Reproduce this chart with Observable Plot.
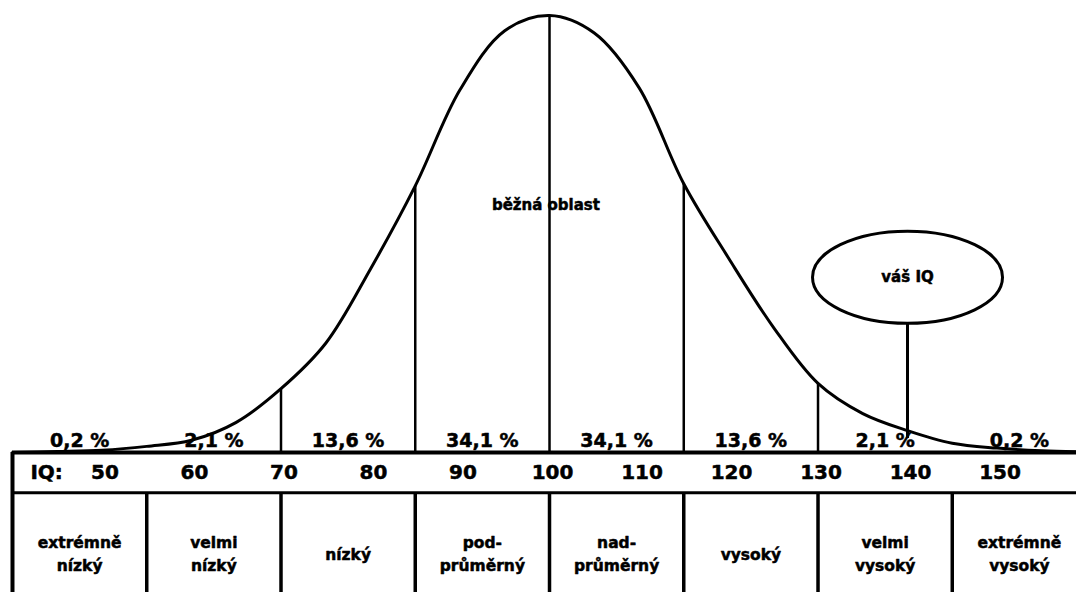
<!DOCTYPE html>
<html>
<head>
<meta charset="utf-8">
<script src="https://cdn.jsdelivr.net/npm/d3@7"></script>
<script src="https://cdn.jsdelivr.net/npm/@observablehq/plot@0.6"></script>
<style>
  html, body { margin: 0; padding: 0; background: #fff; overflow: hidden; }
</style>
</head>
<body>
<div id="chart"></div>
<script>
// ---- data ----
// bell curve: IQ value and curve height (% of the peak)
const curveIQ     = [40, 45, 50, 55, 60, 65, 70, 75, 80, 85, 90, 95, 100, 105, 110, 115, 120, 125, 130, 135, 140, 145, 150, 155, 160];
const curveHeight = [0.0, 0.2, 0.5, 1.4, 2.8, 6.9, 14.6, 25, 42, 61, 83, 96.5, 100, 96, 83.5, 61.5, 44.5, 28.7, 15.8, 8.9, 5.0, 2.1, 1.0, 0.4, 0.1];

// bands of the table (edges in IQ points)
const bandEdges    = [40, 55, 70, 85, 100, 115, 130, 145, 160];
const bandPercents = ["0,2 %", "2,1 %", "13,6 %", "34,1 %", "34,1 %", "13,6 %", "2,1 %", "0,2 %"];
const bandNames    = ["extrémně\nnízký", "velmi\nnízký", "nízký", "pod-\nprůměrný",
                      "nad-\nprůměrný", "vysoký", "velmi\nvysoký", "extrémně\nvysoký"];

// IQ tick labels in the table
const iqTicks = [50, 60, 70, 80, 90, 100, 110, 120, 130, 140, 150];
const iqRowLabel = "IQ:";

// standard-deviation dividers drawn under the curve
const sigmaLines = [70, 85, 100, 115, 130];

// annotations
const regionLabel  = "běžná oblast";
const calloutLabel = "váš IQ";
const yourIQ = 140;

// ---- layout (positions in scale units, not data) ----
const W = 1076, H = 592;
const xDomain = [38.66, 158.88];
const yDomain = [-32.04, 103.43];
const ROW_SEP = -9.2, IQ_ROW_Y = -4.6, NAME_ROW_Y = -22.8, PCT_Y = 2.7;
const REGION_Y = 56.5, REGION_X = 99.6, IQ_LABEL_X = 42.0;
const CALLOUT_Y = 40.1, CALLOUT_BOTTOM = 29.6, CALLOUT_TIP = 3.2;
const RX = 95, RY = 46;

const curve = curveIQ.map((iq, i) => ({iq, h: curveHeight[i]}));
const heightAt = iq => curveHeight[curveIQ.indexOf(iq)];
const bands = bandPercents.map((p, i) => ({
  lo: bandEdges[i], hi: bandEdges[i + 1], mid: (bandEdges[i] + bandEdges[i + 1]) / 2,
  pct: p, name: bandNames[i]
}));

const K = 0.5523;
const ellipseSymbol = {
  draw(ctx) {
    ctx.moveTo(RX, 0);
    ctx.bezierCurveTo(RX, K * RY, K * RX, RY, 0, RY);
    ctx.bezierCurveTo(-K * RX, RY, -RX, K * RY, -RX, 0);
    ctx.bezierCurveTo(-RX, -K * RY, -K * RX, -RY, 0, -RY);
    ctx.bezierCurveTo(K * RX, -RY, RX, -K * RY, RX, 0);
    ctx.closePath();
  }
};

const font = {fontFamily: "DejaVu Sans", fontWeight: "bold", fill: "black", stroke: "black", strokeWidth: 0.5};

const chart = Plot.plot({
  width: W, height: H,
  marginTop: 0, marginBottom: 0, marginLeft: 0, marginRight: 0,
  x: {domain: xDomain, axis: null},
  y: {domain: yDomain, axis: null},
  style: {background: "white", fontFamily: "DejaVu Sans"},
  marks: [
    // bell curve
    Plot.line(curve, {x: "iq", y: "h", curve: "catmull-rom", stroke: "black", strokeWidth: 3}),
    // dividers under the curve
    Plot.ruleX(sigmaLines, {x: d => d, y1: 0, y2: d => heightAt(d), stroke: "black", strokeWidth: 2.5}),
    // table frame
    Plot.ruleY([0], {x1: bandEdges[0], x2: xDomain[1], y: d => d, stroke: "black", strokeWidth: 4}),
    Plot.ruleY([ROW_SEP], {x1: bandEdges[0], x2: xDomain[1], y: d => d, stroke: "black", strokeWidth: 3}),
    Plot.ruleX([bandEdges[0]], {x: d => d, y1: 0, y2: yDomain[0], stroke: "black", strokeWidth: 4}),
    Plot.ruleX(bandEdges.slice(1, -1), {x: d => d, y1: ROW_SEP, y2: yDomain[0], stroke: "black", strokeWidth: 3.5}),
    // percentages
    Plot.text(bands, {x: "mid", y: PCT_Y, text: "pct", fontSize: 19, ...font}),
    // IQ row
    Plot.text([iqRowLabel], {x: IQ_LABEL_X, y: IQ_ROW_Y, text: d => d, textAnchor: "start", fontSize: 20, ...font}),
    Plot.text(iqTicks, {x: d => d, y: IQ_ROW_Y, text: d => String(d), dx: 3, fontSize: 20, ...font}),
    // category names
    Plot.text(bands, {x: "mid", y: NAME_ROW_Y, text: "name", fontSize: 15.5, lineHeight: 1.5, ...font}),
    // region label
    Plot.text([regionLabel], {x: REGION_X, y: REGION_Y, text: d => d, fontSize: 15, ...font}),
    // callout
    Plot.ruleX([yourIQ], {x: d => d, y1: CALLOUT_TIP, y2: CALLOUT_BOTTOM, stroke: "black", strokeWidth: 3}),
    Plot.dot([yourIQ], {x: d => d, y: CALLOUT_Y, symbol: ellipseSymbol, fill: "white", stroke: "black", strokeWidth: 3}),
    Plot.text([calloutLabel], {x: yourIQ, y: CALLOUT_Y, text: d => d, fontSize: 15, ...font})
  ]
});
document.getElementById("chart").appendChild(chart);
</script>
</body>
</html>
